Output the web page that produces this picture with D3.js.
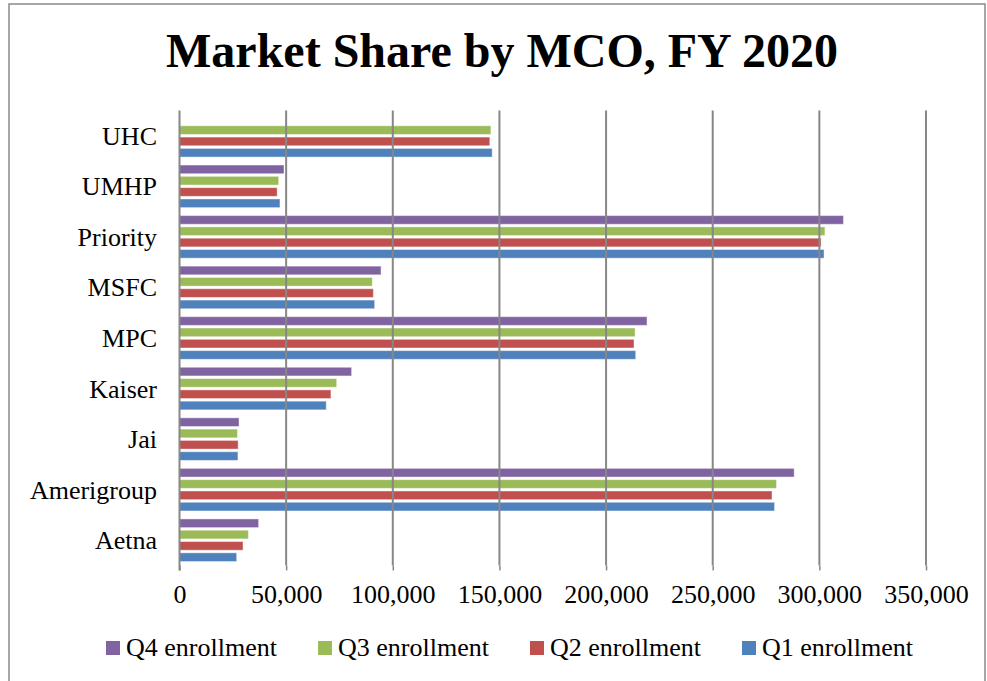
<!DOCTYPE html>
<html>
<head>
<meta charset="utf-8">
<script src="https://cdn.jsdelivr.net/npm/d3@7"></script>
<style>
  html, body { margin: 0; padding: 0; background: #fff; }
  svg { display: block; }
  text { font-family: "Times New Roman", "Liberation Serif", serif; fill: #000; }
</style>
</head>
<body>
<svg id="chart" width="987" height="681"></svg>
<script>
// Categories from bottom to top as in the source (Excel reverses order)
const categories = ["Aetna", "Amerigroup", "Jai", "Kaiser", "MPC", "MSFC", "Priority", "UMHP", "UHC"];
const seriesNames = ["Q1 enrollment", "Q2 enrollment", "Q3 enrollment", "Q4 enrollment"];
const seriesColors = ["#4F81BD", "#C0504D", "#9BBB59", "#8064A2"];
const q1 = [26800, 279000, 27400, 68800, 213900, 91500, 302200, 47100, 146600];
const q2 = [29800, 277800, 27500, 71000, 213100, 90900, 300800, 45800, 145500];
const q3 = [32300, 279900, 27200, 73700, 213600, 90400, 302600, 46500, 146000];
const q4 = [37100, 288200, 27900, 80700, 219200, 94500, 311300, 49000, null];
const tickValues = [0, 50000, 100000, 150000, 200000, 250000, 300000, 350000];
const title = "Market Share by MCO, FY 2020";

const seriesValues = [q1, q2, q3, q4];

const svg = d3.select("#chart");

// outer frame
svg.append("rect")
  .attr("x", 9).attr("y", 4).attr("width", 976).attr("height", 700)
  .attr("fill", "none").attr("stroke", "#8a8a8a").attr("stroke-width", 1.5);

// title
svg.append("text")
  .attr("x", 502).attr("y", 67)
  .attr("text-anchor", "middle")
  .attr("font-size", 48).attr("font-weight", "bold")
  .text(title);

const plotLeft = 179.5, plotRight = 926, plotTop = 110.5, plotBottom = 565.5;

const x = d3.scaleLinear().domain([0, 350000]).range([plotLeft, plotRight]);

// top-to-bottom order of categories: UHC first
const yOrder = categories.slice().reverse();
const y = d3.scaleBand().domain(yOrder).range([plotTop, plotBottom]).paddingInner(0.157).paddingOuter(0.0785);

// within group: Q4 at top, Q1 at bottom
const inner = d3.scaleBand().domain(seriesNames.slice().reverse()).range([0, y.bandwidth()]).paddingInner(0.23).paddingOuter(0);

// bars
const rows = [];
categories.forEach((c, ci) => {
  seriesNames.forEach((s, si) => {
    const v = seriesValues[si][ci];
    if (v != null) rows.push({ cat: c, series: s, color: seriesColors[si], value: v });
  });
});

svg.append("g").selectAll("rect")
  .data(rows)
  .join("rect")
  .attr("x", x(0))
  .attr("y", d => y(d.cat) + inner(d.series))
  .attr("width", d => x(d.value) - x(0))
  .attr("height", inner.bandwidth())
  .attr("fill", d => d.color)
  .attr("stroke", "#ffffff")
  .attr("stroke-opacity", 0.45)
  .attr("stroke-width", 1);

// gridlines (drawn over bars, as in the source)
svg.append("g").selectAll("line")
  .data(tickValues.slice(1))
  .join("line")
  .attr("x1", d => x(d)).attr("x2", d => x(d))
  .attr("y1", plotTop).attr("y2", plotBottom)
  .attr("stroke", "#878787").attr("stroke-width", 2);

// x axis ticks and labels
const xAxis = d3.axisBottom(x).tickValues(tickValues).tickSize(5).tickSizeOuter(0)
  .tickFormat(d3.format(","));
const gx = svg.append("g").attr("transform", `translate(0,${plotBottom})`).call(xAxis);
gx.select(".domain").remove();
gx.selectAll(".tick line").attr("stroke", "#878787").attr("stroke-width", 1.5);
gx.selectAll(".tick text")
  .attr("font-family", "'Times New Roman', 'Liberation Serif', serif")
  .attr("font-size", 26)
  .attr("fill", "#000")
  .attr("y", 37).attr("dy", 0);

// y axis line
svg.append("line")
  .attr("x1", plotLeft).attr("x2", plotLeft)
  .attr("y1", plotTop).attr("y2", plotBottom + 5)
  .attr("stroke", "#878787").attr("stroke-width", 2);

// category labels
svg.append("g").selectAll("text")
  .data(yOrder)
  .join("text")
  .attr("x", 157)
  .attr("y", d => y(d) + y.bandwidth() / 2 + 9)
  .attr("text-anchor", "end")
  .attr("font-size", 26)
  .text(d => d);

// legend: Q4, Q3, Q2, Q1
const legendOrder = [3, 2, 1, 0];
const lg = svg.append("g").selectAll("g")
  .data(legendOrder)
  .join("g")
  .attr("transform", (d, i) => `translate(${106 + i * 212},0)`);
lg.append("rect")
  .attr("x", 0).attr("y", 641).attr("width", 14).attr("height", 14)
  .attr("fill", d => seriesColors[d]);
lg.append("text")
  .attr("x", 20).attr("y", 656)
  .attr("font-size", 26)
  .text(d => seriesNames[d]);
</script>
</body>
</html>
